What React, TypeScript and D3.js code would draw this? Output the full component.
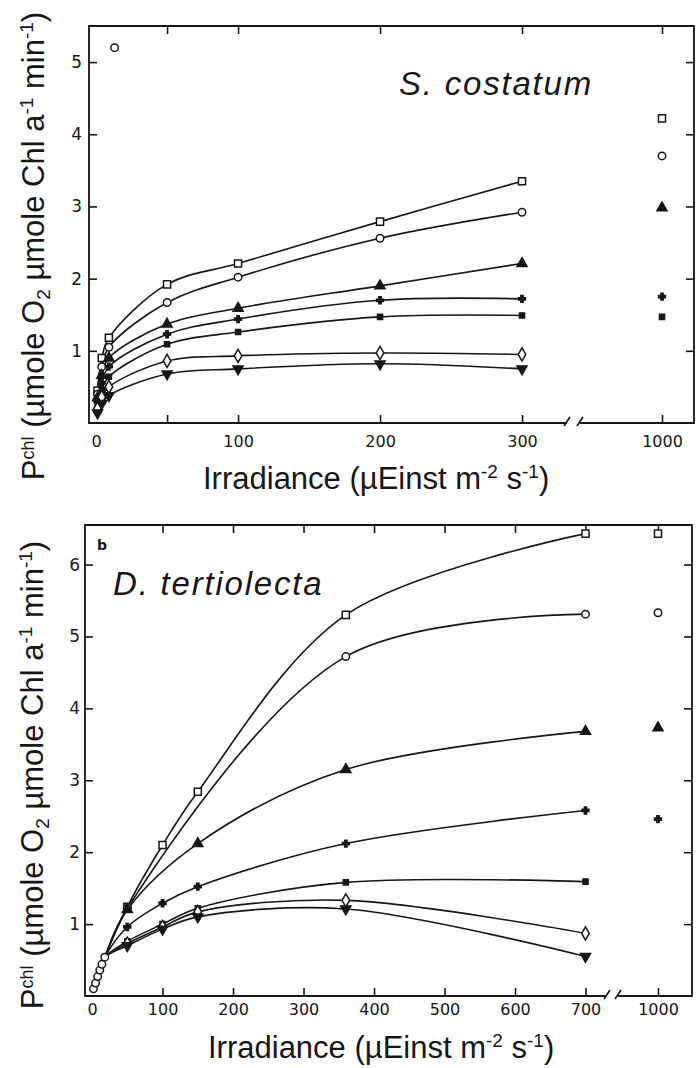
import React, { useEffect, useRef } from "react";
import * as d3 from "d3";

// ---- S. costatum (top panel) ----
const topX = [1, 4, 9, 50, 100, 200, 300];
const topSquare = [0.45, 0.9, 1.18, 1.92, 2.21, 2.79, 3.35];
const topCircle = [0.4, 0.78, 1.05, 1.67, 2.02, 2.56, 2.92];
const topTriangle = [0.35, 0.66, 0.9, 1.37, 1.59, 1.9, 2.21];
const topPlus = [0.3, 0.56, 0.78, 1.23, 1.44, 1.7, 1.72];
const topFilledSq = [0.25, 0.46, 0.64, 1.09, 1.26, 1.47, 1.49];
const topDiamond = [0.2, 0.36, 0.5, 0.86, 0.93, 0.97, 0.95];
const topInvTri = [0.14, 0.27, 0.38, 0.68, 0.75, 0.82, 0.75];
// values at 1000: square, circle, triangle, plus, filled square
const top1000 = [4.22, 3.7, 2.98, 1.75, 1.47];
const topStray = [13, 5.2];
const topXTicks = [50, 100, 200, 300, 1000];
const topXLabels = [0, 100, 200, 300, 1000];
const topYTicks = [1, 2, 3, 4, 5];

// ---- D. tertiolecta (bottom panel) ----
const botLowX = [2, 5, 8, 11, 14, 18];
const botLowY = [0.1, 0.18, 0.27, 0.36, 0.44, 0.54];
const botSquareX = [50, 100, 150, 360, 700];
const botSquare = [1.24, 2.1, 2.84, 5.3, 6.43];
const botCircleX = [50, 360, 700];
const botCircle = [1.22, 4.72, 5.31];
const botTriangleX = [50, 150, 360, 700];
const botTriangle = [1.2, 2.12, 3.15, 3.68];
const botPlusX = [50, 100, 150, 360, 700];
const botPlus = [0.96, 1.29, 1.52, 2.12, 2.58];
const botFilledSqX = [50, 100, 150, 360, 700];
const botFilledSq = [0.76, 1.0, 1.22, 1.58, 1.59];
const botDiamondX = [50, 100, 150, 360, 700];
const botDiamond = [0.73, 0.96, 1.17, 1.33, 0.87];
const botInvTriX = [50, 100, 150, 360, 700];
const botInvTri = [0.7, 0.93, 1.1, 1.21, 0.55];
// values at 1000: square, circle, triangle, plus
const bot1000 = [6.43, 5.33, 3.73, 2.46];
const botXTicks = [100, 200, 300, 400, 500, 600, 700, 1000];
const botXLabels = [0, 100, 200, 300, 400, 500, 600, 700, 1000];
const botYTicks = [1, 2, 3, 4, 5, 6];

const kinds1000 = ["square", "circle", "triangle", "plus", "fsquare"];
const ink = "#161616";
const fmt = d3.format("d");

const symbolFor = (kind) => {
  switch (kind) {
    case "square":
      return { type: d3.symbolSquare, size: 50, fill: "#fff", rot: 0 };
    case "circle":
      return { type: d3.symbolCircle, size: 44, fill: "#fff", rot: 0 };
    case "triangle":
      return { type: d3.symbolTriangle, size: 44, fill: ink, rot: 0 };
    case "invtri":
      return { type: d3.symbolTriangle, size: 44, fill: ink, rot: 180 };
    case "diamond":
      return { type: d3.symbolDiamond, size: 50, fill: "#fff", rot: 0 };
    case "plus":
      return { type: d3.symbolCross, size: 26, fill: ink, rot: 0 };
    default:
      return { type: d3.symbolSquare, size: 26, fill: ink, rot: 0 };
  }
};

const drawMarker = (g, kind, cx, cy) => {
  const s = symbolFor(kind);
  g.append("path")
    .attr("d", d3.symbol().type(s.type).size(s.size)())
    .attr("transform", `translate(${cx},${cy}) rotate(${s.rot})`)
    .attr("fill", s.fill)
    .attr("stroke", ink)
    .attr("stroke-width", 1.5);
};

const drawPanel = (svg, cfg) => {
  const { x, y, left, right, top, bottom, breakA, breakB } = cfg;
  const g = svg.append("g");

  // frame with the broken bottom axis
  g.append("path")
    .attr("d", `M${breakA},${bottom} H${left} V${top} H${right} V${bottom} H${breakB}`)
    .attr("fill", "none")
    .attr("stroke", ink)
    .attr("stroke-width", 1.8);
  [breakA, breakB].forEach((bx) => {
    g.append("path")
      .attr("d", `M${bx - 3},${bottom + 3} L${bx + 3},${bottom - 6}`)
      .attr("stroke", ink)
      .attr("stroke-width", 1.6);
  });

  const styleTicks = (sel) => {
    sel.select(".domain").remove();
    sel.selectAll("line").attr("stroke", ink).attr("stroke-width", 1.6);
  };

  // inward ticks on all four sides
  g.append("g")
    .attr("transform", `translate(0,${bottom})`)
    .call(d3.axisBottom(x).tickValues(cfg.xTicks).tickSize(-8).tickFormat(() => ""))
    .call(styleTicks);
  g.append("g")
    .attr("transform", `translate(0,${top})`)
    .call(d3.axisTop(x).tickValues(cfg.xTicks).tickSize(-8).tickFormat(() => ""))
    .call(styleTicks);
  g.append("g")
    .attr("transform", `translate(${left},0)`)
    .call(d3.axisLeft(y).tickValues(cfg.yTicks).tickSize(-8).tickPadding(cfg.yPad).tickFormat(fmt))
    .call(styleTicks)
    .call((a) =>
      a.selectAll("text").attr("font-family", "DejaVu Sans").attr("font-size", 17).attr("fill", ink)
    );
  g.append("g")
    .attr("transform", `translate(${right},0)`)
    .call(d3.axisRight(y).tickValues(cfg.yTicks).tickSize(-8).tickFormat(() => ""))
    .call(styleTicks);

  // x tick labels
  g.append("g")
    .attr("transform", `translate(0,${bottom})`)
    .call(d3.axisBottom(x).tickValues(cfg.xLabels).tickSize(0).tickFormat(fmt))
    .call((a) => a.select(".domain").remove())
    .call((a) =>
      a
        .selectAll("text")
        .attr("y", cfg.xLabelOffset)
        .attr("dy", 0)
        .attr("font-family", "DejaVu Sans")
        .attr("font-size", 16)
        .attr("fill", ink)
    );

  const line = d3
    .line()
    .x((d) => x(d[0]))
    .y((d) => y(d[1]))
    .curve(d3.curveCatmullRom.alpha(0.5));

  cfg.series.forEach((s) => {
    const pts = s.xs.map((d, i) => [d, s.ys[i]]);
    const linePts = cfg.lowX ? cfg.lowX.map((d, i) => [d, cfg.lowY[i]]).concat(pts) : pts;
    g.append("path")
      .datum(linePts)
      .attr("d", line)
      .attr("fill", "none")
      .attr("stroke", ink)
      .attr("stroke-width", 1.6);
  });

  if (cfg.lowX) {
    cfg.lowX.forEach((d, i) => drawMarker(g, "circle", x(d), y(cfg.lowY[i])));
  }
  cfg.series.forEach((s) => {
    s.xs.forEach((d, i) => drawMarker(g, s.kind, x(d), y(s.ys[i])));
  });
  cfg.at1000.forEach((v, i) => drawMarker(g, kinds1000[i], x(1000), y(v)));

  return g;
};

const xLabelText = (t) => {
  t.append("tspan").text("Irradiance (µEinst m");
  t.append("tspan").attr("dy", -11).attr("font-size", 19).text("-2");
  t.append("tspan").attr("dy", 11).text(" s");
  t.append("tspan").attr("dy", -11).attr("font-size", 19).text("-1");
  t.append("tspan").attr("dy", 11).text(")");
};

const yLabelText = (t) => {
  t.append("tspan").text("P");
  t.append("tspan").attr("dy", -10).attr("font-size", 18).text("chl");
  t.append("tspan").attr("dy", 10).text(" (µmole O");
  t.append("tspan").attr("dy", 6).attr("font-size", 19).text("2");
  t.append("tspan").attr("dy", -6).text(" µmole Chl a");
  t.append("tspan").attr("dy", -11).attr("font-size", 19).text("-1");
  t.append("tspan").attr("dy", 11).text(" min");
  t.append("tspan").attr("dy", -11).attr("font-size", 19).text("-1");
  t.append("tspan").attr("dy", 11).text(")");
};

const App = () => {
  const ref = useRef(null);

  useEffect(() => {
    const svg = d3.select(ref.current);
    svg.selectAll("*").remove();

    // ---- top panel ----
    const xTop = d3.scaleLinear().domain([-5, 300, 1000]).range([89, 522, 662]);
    const yTop = d3.scaleLinear().domain([0, 5.5]).range([423, 26]);
    const gTop = drawPanel(svg, {
      x: xTop,
      y: yTop,
      left: 89,
      right: 694,
      top: 26,
      bottom: 423,
      breakA: 567,
      breakB: 580,
      xTicks: topXTicks,
      xLabels: topXLabels,
      yTicks: topYTicks,
      yPad: 7,
      xLabelOffset: 24,
      series: [
        { kind: "square", xs: topX, ys: topSquare },
        { kind: "circle", xs: topX, ys: topCircle },
        { kind: "triangle", xs: topX, ys: topTriangle },
        { kind: "plus", xs: topX, ys: topPlus },
        { kind: "fsquare", xs: topX, ys: topFilledSq },
        { kind: "diamond", xs: topX, ys: topDiamond },
        { kind: "invtri", xs: topX, ys: topInvTri },
      ],
      at1000: top1000,
    });
    drawMarker(gTop, "circle", xTop(topStray[0]), yTop(topStray[1]));

    svg
      .append("text")
      .attr("x", 399)
      .attr("y", 95)
      .attr("font-family", "Liberation Sans")
      .attr("font-style", "italic")
      .attr("font-size", 33)
      .attr("letter-spacing", 1.8)
      .attr("fill", ink)
      .text("S. costatum");

    svg
      .append("text")
      .attr("x", 203)
      .attr("y", 489)
      .attr("font-family", "Liberation Sans")
      .attr("font-size", 31)
      .attr("fill", ink)
      .call(xLabelText);

    svg
      .append("text")
      .attr("transform", "translate(44,246) rotate(-90)")
      .attr("text-anchor", "middle")
      .attr("font-family", "Liberation Sans")
      .attr("font-size", 31)
      .attr("fill", ink)
      .call(yLabelText);

    // ---- bottom panel ----
    const xBot = d3.scaleLinear().domain([-10, 700, 1000]).range([85, 585.5, 658]);
    const yBot = d3.scaleLinear().domain([0, 6.55]).range([996, 525]);
    drawPanel(svg, {
      x: xBot,
      y: yBot,
      left: 85,
      right: 692,
      top: 525,
      bottom: 996,
      breakA: 607,
      breakB: 618,
      xTicks: botXTicks,
      xLabels: botXLabels,
      yTicks: botYTicks,
      yPad: 5,
      xLabelOffset: 19,
      lowX: botLowX,
      lowY: botLowY,
      series: [
        { kind: "square", xs: botSquareX, ys: botSquare },
        { kind: "circle", xs: botCircleX, ys: botCircle },
        { kind: "triangle", xs: botTriangleX, ys: botTriangle },
        { kind: "plus", xs: botPlusX, ys: botPlus },
        { kind: "fsquare", xs: botFilledSqX, ys: botFilledSq },
        { kind: "diamond", xs: botDiamondX, ys: botDiamond },
        { kind: "invtri", xs: botInvTriX, ys: botInvTri },
      ],
      at1000: bot1000,
    });

    svg
      .append("text")
      .attr("x", 97)
      .attr("y", 550)
      .attr("font-family", "DejaVu Sans")
      .attr("font-weight", "bold")
      .attr("font-size", 14)
      .attr("fill", ink)
      .text("b");

    svg
      .append("text")
      .attr("x", 113)
      .attr("y", 595)
      .attr("font-family", "Liberation Sans")
      .attr("font-style", "italic")
      .attr("font-size", 33)
      .attr("letter-spacing", 1.8)
      .attr("fill", ink)
      .text("D. tertiolecta");

    svg
      .append("text")
      .attr("x", 208)
      .attr("y", 1058)
      .attr("font-family", "Liberation Sans")
      .attr("font-size", 31)
      .attr("fill", ink)
      .call(xLabelText);

    svg
      .append("text")
      .attr("transform", "translate(43,775) rotate(-90)")
      .attr("text-anchor", "middle")
      .attr("font-family", "Liberation Sans")
      .attr("font-size", 31)
      .attr("fill", ink)
      .call(yLabelText);
  }, []);

  return (
    <svg
      ref={ref}
      width={696}
      height={1068}
      style={{ position: "absolute", left: 0, top: 0, background: "#fff" }}
    ></svg>
  );
};

export default App;
